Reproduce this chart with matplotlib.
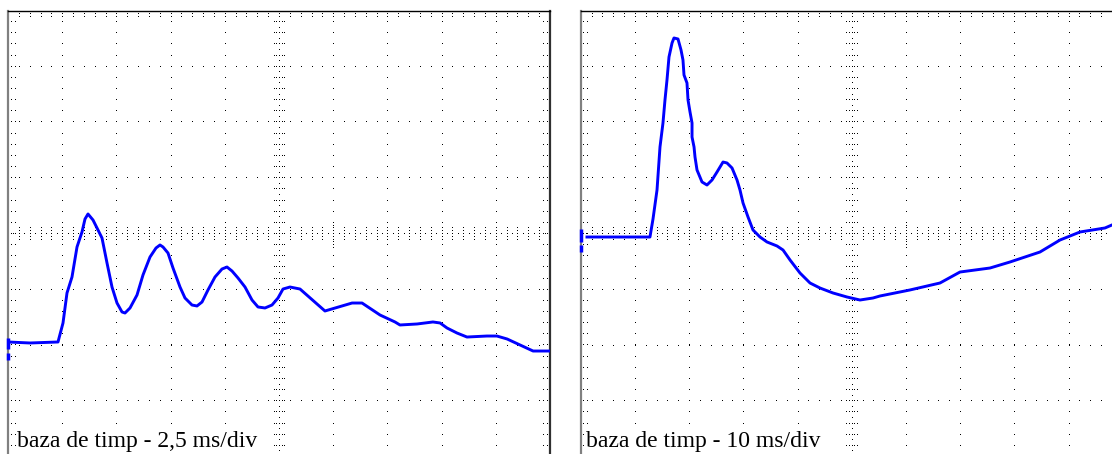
import numpy as np
import matplotlib
matplotlib.use("Agg")
import matplotlib.pyplot as plt

# screen: 10 x 8 divisions per panel, amplitude in divisions
N_XDIV = 10
N_YDIV = 8

# left trace, 2.5 ms/div
left_t = [0.0, 1.015, 2.306, 2.537, 2.721, 2.952, 3.044, 3.183, 3.413, 3.552,
          3.690, 3.921, 4.105, 4.336, 4.567, 4.797, 5.028, 5.259, 5.397, 5.628,
          5.951, 6.227, 6.550, 6.827, 7.011, 7.149, 7.380, 7.611, 7.934, 8.164,
          8.487, 8.718, 8.949, 9.225, 9.548, 9.871, 10.101, 10.332, 10.609, 10.932,
          11.255, 11.531, 11.854, 12.177, 12.454, 12.684, 13.007, 13.469, 14.62, 15.87,
          16.33, 17.16, 17.85, 18.08, 18.87, 19.60, 19.93, 20.25, 20.71, 21.17,
          22.09, 22.55, 23.02, 23.62, 24.22, 25.0]
left_v = [-1.937, -1.955, -1.937, -1.596, -1.058, -0.771, -0.556, -0.233, 0.036, 0.269,
          0.359, 0.251, 0.108, -0.072, -0.520, -0.951, -1.238, -1.399, -1.417, -1.327,
          -1.094, -0.735, -0.413, -0.251, -0.197, -0.233, -0.341, -0.610, -0.951, -1.148,
          -1.274, -1.291, -1.220, -1.004, -0.771, -0.628, -0.592, -0.664, -0.789, -0.951,
          -1.184, -1.309, -1.327, -1.274, -1.148, -0.987, -0.951, -0.987, -1.381, -1.238,
          -1.238, -1.453, -1.578, -1.632, -1.614, -1.578, -1.596, -1.686, -1.776, -1.848,
          -1.830, -1.830, -1.883, -1.991, -2.099, -2.099]

# right trace, 10 ms/div
right_t = [1.16, 7.25, 12.78, 13.34, 14.08, 14.63, 15.18, 15.55, 15.92, 16.29,
           16.85, 17.21, 17.95, 18.51, 18.87, 19.06, 19.61, 19.80, 20.17, 20.54,
           20.54, 20.91, 21.09, 21.46, 22.38, 23.30, 24.23, 25.15, 26.26, 26.99,
           27.92, 28.84, 29.39, 29.95, 30.87, 31.79, 33.08, 34.37, 36.22, 37.33,
           38.62, 40.46, 42.31, 44.15, 46.55, 49.13, 51.53, 53.93, 55.22, 60.75,
           66.29, 69.98, 75.52, 79.21, 84.74, 88.43, 92.12, 96.73, 98.0]
right_v = [-0.054, -0.054, -0.054, 0.269, 0.789, 1.561, 1.991, 2.404, 2.762, 3.175,
           3.426, 3.516, 3.498, 3.300, 3.121, 2.852, 2.709, 2.404, 2.188, 1.991,
           1.740, 1.561, 1.381, 1.148, 0.933, 0.879, 0.969, 1.112, 1.291, 1.274,
           1.184, 0.969, 0.789, 0.556, 0.305, 0.072, -0.054, -0.143, -0.215, -0.287,
           -0.466, -0.700, -0.879, -0.969, -1.058, -1.130, -1.184, -1.148, -1.112, -1.004,
           -0.879, -0.682, -0.610, -0.502, -0.323, -0.108, 0.036, 0.108, 0.161]

# ground marker segments on the left edge (divisions)
left_gnd = [(-1.87, -2.06), (-2.13, -2.26)]
right_gnd = [(0.09, -0.14), (-0.20, -0.32)]

panels = [
    dict(t=left_t, v=left_v, ms_div=2.5, label="baza de timp - 2,5 ms/div",
         gnd=left_gnd, text_x=0.16),
    dict(t=right_t, v=right_v, ms_div=10, label="baza de timp - 10 ms/div",
         gnd=right_gnd, text_x=0.1),
]

W, H = 1112, 454
PW, PH = 542, 446
left_px = [8, 580.7]
top_px = 11


def draw_grid(ax, ms_div):
    dx = ms_div
    half_y = N_YDIV / 2
    minor_y = np.arange(-half_y, half_y + 1e-9, 0.2)
    minor_x = np.arange(0, N_XDIV + 1e-9, 0.2) * dx
    dots_x, dots_y = [], []
    # major verticals
    for i in range(1, N_XDIV):
        if i == N_XDIV // 2:
            continue
        dots_x += [i * dx] * len(minor_y)
        dots_y += list(minor_y)
    # major horizontals
    for j in range(-int(half_y) + 1, int(half_y)):
        if j == 0:
            continue
        dots_x += list(minor_x)
        dots_y += [j] * len(minor_x)
    # centre lines, 0.1 div spacing with ticks every 0.2 div
    cy = np.arange(-half_y, half_y + 1e-9, 0.1)
    cx = np.arange(0, N_XDIV + 1e-9, 0.1) * dx
    dots_x += [5 * dx] * len(cy)
    dots_y += list(cy)
    dots_x += list(cx)
    dots_y += [0] * len(cx)
    for y in minor_y:
        for off in (-0.1, -0.05, 0.05, 0.1):
            dots_x.append(5 * dx + off * dx)
            dots_y.append(y)
    for x in minor_x:
        for off in (-0.1, -0.05, 0.05, 0.1):
            dots_x.append(x)
            dots_y.append(off)
    # border ticks
    for y in minor_y:
        dots_x += [0.05 * dx, 0.12 * dx, N_XDIV * dx - 0.05 * dx, N_XDIV * dx - 0.12 * dx]
        dots_y += [y] * 4
    for x in minor_x:
        dots_x += [x, x]
        dots_y += [half_y - 0.05, half_y - 0.1]
    # marker column at 6th division
    for y in np.arange(-0.25, 0.25, 0.05):
        dots_x.append(6 * dx)
        dots_y.append(y)
    ax.plot(dots_x, dots_y, ",", color="black", zorder=1)


fig = plt.figure(figsize=(W / 100, H / 100), dpi=100)
for p, x0 in zip(panels, left_px):
    ax = fig.add_axes([x0 / W, 1 - (top_px + PH) / H, PW / W, PH / H])
    ax.set_xlim(0, N_XDIV * p["ms_div"])
    ax.set_ylim(-N_YDIV / 2, N_YDIV / 2)
    ax.set_xticks([])
    ax.set_yticks([])
    ax.spines["left"].set_color("#808080")
    ax.spines["left"].set_linewidth(1.6)
    ax.spines["top"].set_color("black")
    ax.spines["top"].set_linewidth(1.0)
    ax.spines["right"].set_color("#303030")
    ax.spines["right"].set_linewidth(1.6)
    ax.spines["bottom"].set_color("black")
    draw_grid(ax, p["ms_div"])
    ax.plot(p["t"], p["v"], color="#0000ff", linewidth=2.1, zorder=3,
            solid_joinstyle="round")
    for g0, g1 in p["gnd"]:
        ax.plot([0, 0], [g0, g1], color="#0000ff", linewidth=2.5,
                solid_capstyle="butt", clip_on=False, zorder=4)
    ax.text(p["text_x"] * p["ms_div"], -3.82, p["label"], fontsize=17,
            family="Liberation Serif", ha="left", va="baseline", zorder=5,
            bbox=dict(facecolor="white", edgecolor="none", pad=0.5))

fig.savefig("out.png", dpi=100)
